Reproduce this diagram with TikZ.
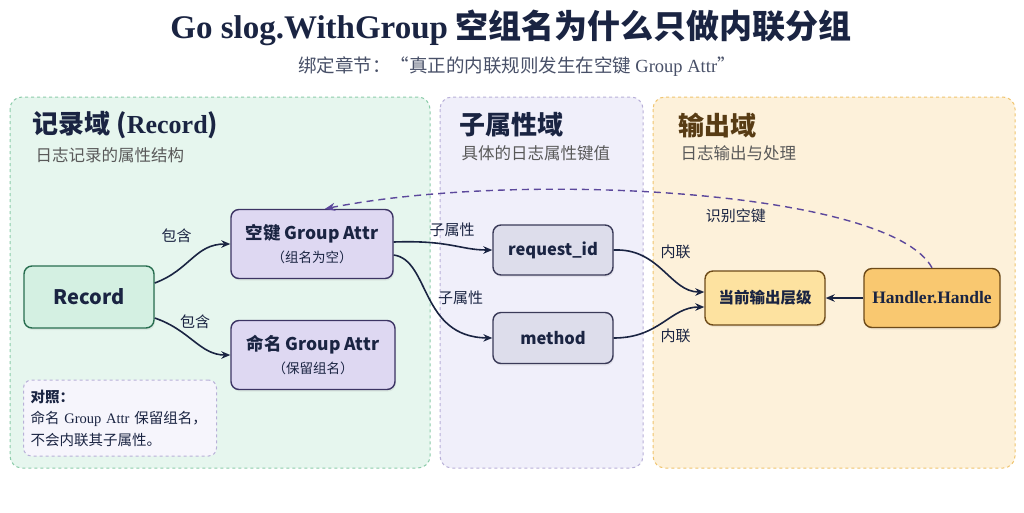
\documentclass[tikz,border=0pt]{standalone}
\usepackage{fontspec}
\setmainfont{Noto Sans CJK SC}
\newfontfamily\serifen{Liberation Serif}
\usepackage{xcolor}
\usetikzlibrary{arrows.meta,positioning,shadows}
\definecolor{gink}{RGB}{26,36,66}
\definecolor{gfill}{RGB}{230,246,238}
\definecolor{gline}{RGB}{140,204,170}
\definecolor{gnode}{RGB}{212,240,226}
\definecolor{gdark}{RGB}{40,110,80}
\definecolor{pfill}{RGB}{240,239,250}
\definecolor{pline}{RGB}{184,176,216}
\definecolor{pnode}{RGB}{222,216,242}
\definecolor{pdark}{RGB}{60,52,100}
\definecolor{knode}{RGB}{221,221,235}
\definecolor{kdark}{RGB}{58,58,88}
\definecolor{ofill}{RGB}{253,241,218}
\definecolor{oline}{RGB}{240,196,110}
\definecolor{onode}{RGB}{253,226,160}
\definecolor{hnode}{RGB}{249,200,112}
\definecolor{odark}{RGB}{110,75,25}
\definecolor{dashp}{RGB}{92,72,156}

\begin{document}
\begin{tikzpicture}[
  x=1pt,y=-1pt,
  panel/.style={draw,dashed,rounded corners=12pt,line width=1pt},
  box/.style={draw,rounded corners=8pt,line width=1.4pt,align=center,
    text=gink,drop shadow={opacity=0.12,shadow xshift=1pt,shadow yshift=-2pt}},
  ptitle/.style={anchor=west,font=\fontsize{26}{30}\selectfont\bfseries,text=gink},
  psub/.style={anchor=west,font=\fontsize{16.5}{20}\selectfont,text=gray!70!black},
  lbl/.style={font=\fontsize{15}{17}\selectfont,text=gink},
  arr/.style={-{Stealth[length=9pt,width=7.5pt]},line width=1.6pt,draw=gink},
  darr/.style={-{Stealth[length=10pt,width=8pt]},line width=1.4pt,draw=dashp,dash pattern=on 7pt off 5pt}
]
\useasboundingbox[fill=white] (0,0) rectangle (1024,512);

% title
\node[text=gink,font=\fontsize{33}{38}\selectfont\bfseries] (title) at (511,28)
  {{\serifen Go slog.WithGroup} 空组名为什么只做内联分组};
\node[text=gink!80,font=\fontsize{18.5}{22}\selectfont] (subtitle) at (517,67)
  {绑定章节：“真正的内联规则发生在空键 {\serifen Group Attr}”};

% panels
\draw[panel,fill=gfill,draw=gline] (10,97) rectangle (430,468);
\draw[panel,fill=pfill,draw=pline] (440,97) rectangle (643,468);
\draw[panel,fill=ofill,draw=oline] (653,97) rectangle (1015,468);

\node[ptitle] (rectitle) at (29,125) {记录域 ({\serifen Record})};
\node[psub] (recsub) at (32,155) {日志记录的属性结构};
\node[ptitle] (subtitle2) at (456,125) {子属性域};
\node[psub] (subsub) at (458,153) {具体的日志属性键值};
\node[ptitle,text=odark!80!black] (outtitle) at (675,125) {输出域};
\node[psub] (outsub) at (677,153) {日志输出与处理};

% nodes
\node[box,fill=gnode,draw=gdark,minimum width=130pt,minimum height=62pt,
  font=\fontsize{20}{23}\selectfont\bfseries] (record) at (89,297) {Record};
\node[box,fill=pnode,draw=pdark,minimum width=162pt,minimum height=69pt] (emptykey) at (312,244)
  {{\fontsize{17.5}{22}\selectfont\bfseries 空键 Group Attr}\\[6pt]{\fontsize{13.5}{16}\selectfont （组名为空）}};
\node[box,fill=pnode,draw=pdark,minimum width=164pt,minimum height=69pt] (namedkey) at (313,355)
  {{\fontsize{17.5}{22}\selectfont\bfseries 命名 Group Attr}\\[6pt]{\fontsize{13.5}{16}\selectfont （保留组名）}};
\node[box,fill=knode,draw=kdark,minimum width=120pt,minimum height=50pt,
  font=\fontsize{16.5}{19}\selectfont\bfseries] (reqid) at (553,250) {request\_id};
\node[box,fill=knode,draw=kdark,minimum width=120pt,minimum height=51pt,
  font=\fontsize{16.5}{19}\selectfont\bfseries] (method) at (553,338) {method};
\node[box,fill=onode,draw=odark,minimum width=120pt,minimum height=54pt,
  font=\fontsize{15.5}{18}\selectfont\bfseries] (level) at (765,298) {当前输出层级};
\node[box,fill=hnode,draw=odark,minimum width=136pt,minimum height=59pt,
  font=\fontsize{17.5}{21}\selectfont\bfseries] (handler) at (932,298) {{\serifen Handler.Handle}};

% note
\node[draw=pline,dashed,rounded corners=8pt,fill=pfill!60!white,line width=1pt,
  minimum width=193pt,minimum height=76pt,align=left,text=gink,inner xsep=7pt,
  font=\fontsize{14.5}{21.5}\selectfont,text width=179pt] (note) at (120,418)
  {\textbf{对照：}\\命名 {\serifen Group Attr} 保留组名，\\不会内联其子属性。};

% connectors
\draw[arr] (record.east |- 0,283) .. controls (190,270) and (195,244) .. node[lbl,pos=0.5,xshift=-16pt,yshift=23pt] {包含} (emptykey.west);
\draw[arr] (record.east |- 0,318) .. controls (190,330) and (200,355) .. node[lbl,pos=0.45,above=6pt,xshift=4pt] {包含} (namedkey.west);
\draw[arr] (emptykey.east |- 0,242) .. controls (450,240) and (460,250) .. node[lbl,pos=0.5,yshift=15pt] {子属性} (reqid.west);
\draw[arr] (emptykey.east |- 0,255) .. controls (430,260) and (420,337) .. node[lbl,pos=0.5,xshift=31pt] {子属性} (method.west);
\draw[arr] (reqid.east) .. controls (660,248) and (670,292) .. node[lbl,pos=0.5,xshift=12pt,yshift=18pt] {内联} (level.west |- 0,292);
\draw[arr] (method.east) .. controls (660,338) and (670,307) .. node[lbl,pos=0.5,xshift=12pt,yshift=-13pt] {内联} (level.west |- 0,307);
\draw[arr] (handler.west) -- (level.east);
\draw[darr] (handler.north) .. controls (890,190) and (520,170) .. node[lbl,pos=0.43,below=5pt] {识别空键} (emptykey.north -| 325,0);
\end{tikzpicture}
\end{document}
